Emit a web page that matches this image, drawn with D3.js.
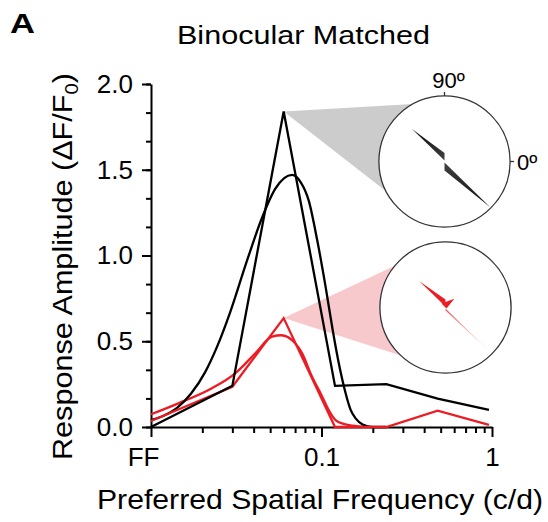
<!DOCTYPE html>
<html>
<head>
<meta charset="UTF-8">
<title>Binocular Matched</title>
<script src="https://d3js.org/d3.v7.min.js"></script>
<style>
    body { margin: 0; padding: 0; background: #fff; }
    svg { display: block; font-family: 'Liberation Sans', Arial, Helvetica, sans-serif; }
    .axis path, .axis line { stroke: #000; stroke-width: 2px; }
    .axis text { font-size: 26px; fill: #000; font-family: 'Liberation Sans', Arial, sans-serif; }
</style>
</head>
<body>
<svg></svg>
<script>

// spatial frequencies (c/d); FF (full field) is plotted at 0.01
let sfData = [0.01, 0.03, 0.06, 0.12, 0.24, 0.48, 0.96];
let blackAmp = [0.0, 0.24, 1.84, 0.24, 0.25, 0.165, 0.10];
let redAmp = [0.035, 0.235, 0.635, 0.0, 0.0, 0.095, 0.012];

// fitted tuning curves
let blackFitSF = [0.0100, 0.01209, 0.01416, 0.01719, 0.02078, 0.02445, 0.02915, 0.03656, 0.04479, 0.05363,
    0.06725, 0.07524, 0.08419, 0.09434, 0.1056, 0.1161, 0.1264, 0.1366, 0.1482, 0.1585, 0.1742, 0.1995, 0.24];
let blackFitAmp = [0.04, 0.07, 0.11, 0.195, 0.32, 0.47, 0.67, 0.97, 1.22, 1.39,
    1.47, 1.43, 1.32, 1.09, 0.82, 0.57, 0.37, 0.22, 0.10, 0.05, 0.015, 0.0, 0.0];
let redFitSF = [0.0100, 0.01447, 0.02276, 0.03119, 0.04090, 0.05129, 0.05817, 0.06873, 0.07700, 0.08735,
    0.1010, 0.1100, 0.1209, 0.1348, 0.1522, 0.1815];
let redFitAmp = [0.074, 0.138, 0.226, 0.313, 0.43, 0.527, 0.535, 0.497, 0.43, 0.30,
    0.177, 0.10, 0.04, 0.018, 0.008, 0.0];

// axis ticks
let xMajor = [0.01, 0.1, 1];
let xLabels = ["FF", "0.1", "1"];
let xMinor = [0.02, 0.03, 0.04, 0.05, 0.06, 0.07, 0.08, 0.09, 0.2, 0.3, 0.4, 0.5, 0.6, 0.7, 0.8, 0.9];
let yMajor = [0, 0.5, 1.0, 1.5, 2.0];
let yMinor = d3.range(0, 2.001, 0.5 / 3);

// polar insets: preferred orientation (deg) and relative amplitude
let blackOri = [135, 315];
let blackOriAmp = [0.70, 0.985];
let redOri = [135, 45, 315];
let redOriAmp = [0.57, 0.19, 0.945];

// dimensions
let w = 548, h = 522;
let red = "#ec1c24";

let svg = d3.select("svg")
    .attr("width", w)
    .attr("height", h)
    .attr("viewBox", `0 0 ${w} ${h}`);

let x = d3.scaleLog().domain([0.01, 1]).range([151, 492]);
let y = d3.scaleLinear().domain([0, 2]).range([427, 84]);

// insets
let insetR = 65.6;
let insets = [
    {cx: 444.5, cy: 161.5, fill: "#cccccc", peak: [0.06, 1.84], ori: blackOri, amp: blackOriAmp,
     color: "#000", widths: [7.5, 8], fade: [0.95, 0.95]},
    {cx: 445.5, cy: 307.5, fill: "#f8c9cc", peak: [0.06, 0.635], ori: redOri, amp: redOriAmp,
     color: red, widths: [7, 6, 2], fade: [1, 1, 0.12]}
];

// zoom triangles from peak to inset
insets.forEach(ins => {
    let ax = x(ins.peak[0]), ay = y(ins.peak[1]);
    let dx = ins.cx - ax, dy = ins.cy - ay;
    let d = Math.hypot(dx, dy);
    let a0 = Math.atan2(dy, dx);
    let off = 0.9 * Math.asin(insetR / d);
    let pts = [[ax, ay],
        [ax + d * Math.cos(a0 - off), ay + d * Math.sin(a0 - off)],
        [ax + d * Math.cos(a0 + off), ay + d * Math.sin(a0 + off)]];
    svg.append("polygon")
        .attr("points", pts.map(p => p.join(",")).join(" "))
        .attr("fill", ins.fill);
});

// axes
let xAxis = svg.append("g")
    .attr("class", "axis")
    .attr("transform", "translate(0,427)")
    .call(d3.axisBottom(x).tickValues(xMajor).tickSize(10).tickPadding(10.5).tickSizeOuter(0)
        .tickFormat((d, i) => xLabels[i]));
xAxis.selectAll("text").filter((d, i) => i === 0).attr("dx", "-8");
svg.append("g")
    .attr("class", "axis")
    .attr("transform", "translate(0,427)")
    .call(d3.axisBottom(x).tickValues(xMinor).tickSize(6).tickFormat(""))
    .select(".domain").remove();

svg.append("g")
    .attr("class", "axis")
    .attr("transform", "translate(151,0)")
    .call(d3.axisLeft(y).tickValues(yMajor).tickSize(9).tickPadding(9).tickSizeOuter(0)
        .tickFormat(d3.format(".1f")));
svg.append("g")
    .attr("class", "axis")
    .attr("transform", "translate(151,0)")
    .call(d3.axisLeft(y).tickValues(yMinor).tickSize(5).tickFormat(""))
    .select(".domain").remove();

// lines
let line = d3.line().x(d => x(d[0])).y(d => y(d[1]));
let curve = d3.line().x(d => x(d[0])).y(d => y(d[1])).curve(d3.curveMonotoneX);

let series = [
    {sf: redFitSF, amp: redFitAmp, color: red, gen: curve},
    {sf: blackFitSF, amp: blackFitAmp, color: "#000", gen: curve},
    {sf: sfData, amp: redAmp, color: red, gen: line},
    {sf: sfData, amp: blackAmp, color: "#000", gen: line}
];
svg.append("g")
    .selectAll("path")
    .data(series)
    .enter()
    .append("path")
    .attr("d", s => s.gen(s.sf.map((f, i) => [f, s.amp[i]])))
    .attr("fill", "none")
    .attr("stroke", s => s.color)
    .attr("stroke-width", 2.3)
    .attr("stroke-linejoin", "miter");

// polar insets
let defs = svg.append("defs");
insets.forEach((ins, k) => {
    let g = svg.append("g").attr("transform", `translate(${ins.cx},${ins.cy})`);
    g.append("circle")
        .attr("r", insetR)
        .attr("fill", "#fff")
        .attr("stroke", "#333")
        .attr("stroke-width", 1.3);
    ins.ori.forEach((o, i) => {
        let a = o * Math.PI / 180;
        let len = ins.amp[i] * insetR;
        let tx = len * Math.cos(a), ty = -len * Math.sin(a);
        let s = ty < 0 ? -1 : 1;
        let wd = ins.widths[i];
        let id = `grad${k}_${i}`;
        let gr = defs.append("linearGradient")
            .attr("id", id)
            .attr("gradientUnits", "userSpaceOnUse")
            .attr("x1", 0).attr("y1", 0).attr("x2", tx).attr("y2", ty);
        gr.append("stop").attr("offset", "0").attr("stop-color", ins.color).attr("stop-opacity", ins.fade[i] < 1 ? 0.75 : 1);
        gr.append("stop").attr("offset", "1").attr("stop-color", ins.color).attr("stop-opacity", ins.fade[i]);
        // the small off-axis lobe gets a base along the main lobe, the others a vertical base
        let base = (o % 180 === 45)
            ? `${-4},${-4} ${1},${1}`
            : `0,${s * 1} 0,${s * (1 + wd)}`;
        g.append("polygon")
            .attr("points", `${tx},${ty} ${base}`)
            .attr("fill", `url(#${id})`);
    });
    if (k === 0) {
        g.append("line").attr("x1", insetR).attr("x2", insetR + 4).attr("stroke", "#333").attr("stroke-width", 1.3);
        g.append("line").attr("y1", -insetR).attr("y2", -insetR - 4).attr("stroke", "#333").attr("stroke-width", 1.3);
        g.append("text")
            .attr("x", 4).attr("y", -insetR - 8)
            .attr("text-anchor", "middle")
            .attr("font-size", 22)
            .text("90º");
        g.append("text")
            .attr("x", insetR + 7).attr("y", 8)
            .attr("font-size", 22)
            .text("0º");
    }
});

// labels
svg.append("text")
    .attr("x", 10).attr("y", 33)
    .attr("font-size", 27)
    .attr("font-weight", "bold")
    .attr("transform", "translate(10,33) scale(1.28,1) translate(-10,-33)")
    .text("A");

svg.append("text")
    .attr("x", 303.5).attr("y", 44)
    .attr("text-anchor", "middle")
    .attr("font-size", 26)
    .attr("textLength", 253)
    .attr("lengthAdjust", "spacingAndGlyphs")
    .text("Binocular Matched");

svg.append("text")
    .attr("x", 320).attr("y", 509)
    .attr("text-anchor", "middle")
    .attr("font-size", 28)
    .attr("textLength", 446)
    .attr("lengthAdjust", "spacingAndGlyphs")
    .text("Preferred Spatial Frequency (c/d)");

let ylab = svg.append("text")
    .attr("transform", "translate(72,266.5) rotate(-90)")
    .attr("text-anchor", "middle")
    .attr("font-size", 28.5)
    .attr("textLength", 387)
    .attr("lengthAdjust", "spacingAndGlyphs");
ylab.append("tspan").text("Response Amplitude (ΔF/F");
ylab.append("tspan").attr("font-size", 19).attr("dy", 6).text("0");
ylab.append("tspan").attr("dy", -6).text(")");

</script>
</body>
</html>
